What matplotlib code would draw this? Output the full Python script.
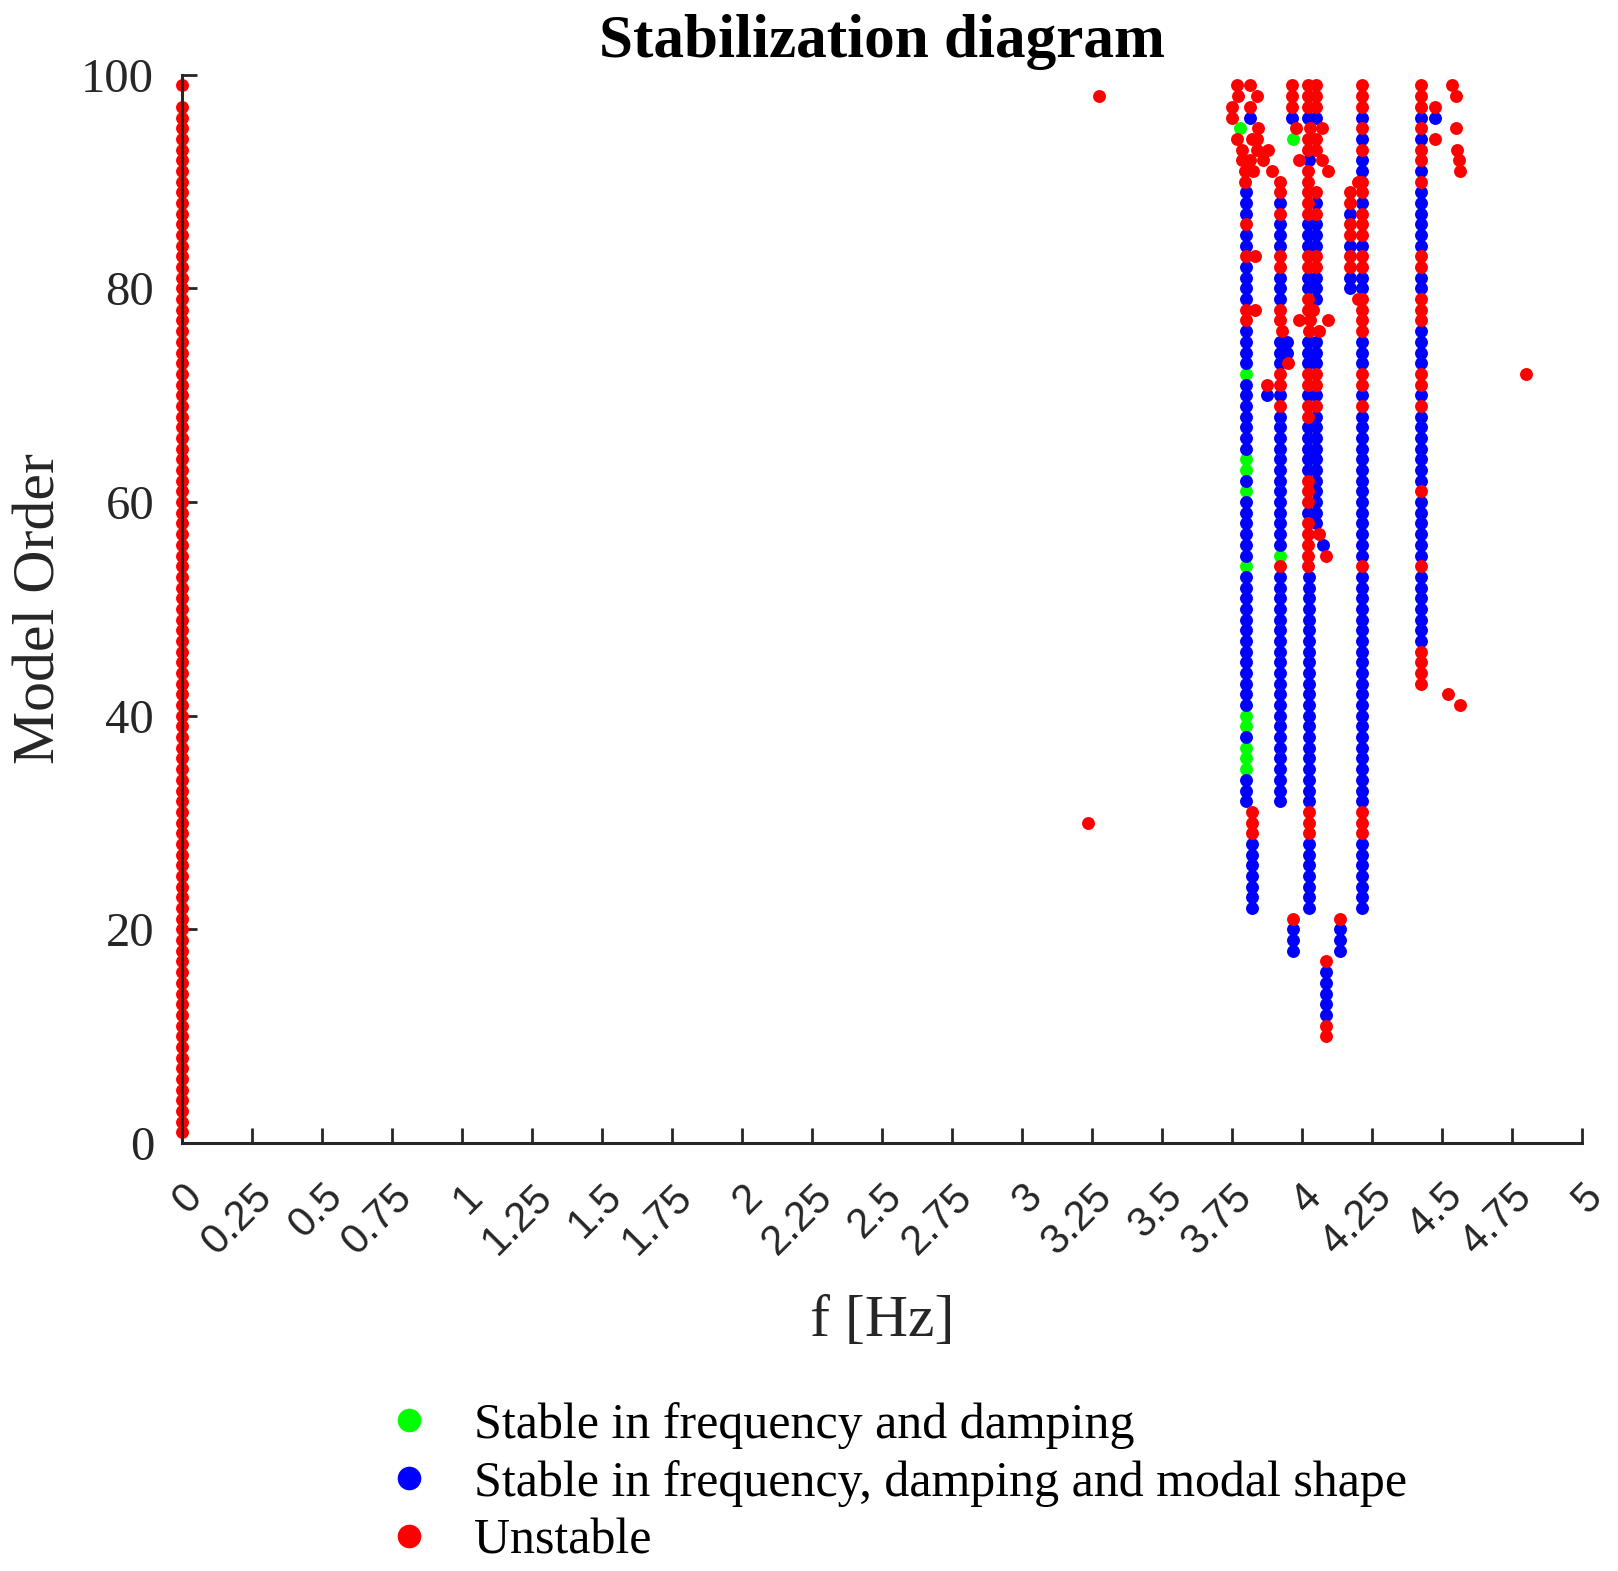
import numpy as np
import matplotlib
matplotlib.use('Agg')
import matplotlib.pyplot as plt
from matplotlib.lines import Line2D

# runs of poles: (frequency [Hz], top model order, bottom model order)
green_runs = [
    (3.779, 95, 95),
    (3.80, 72, 72), (3.80, 64, 63), (3.80, 61, 61), (3.80, 54, 54),
    (3.80, 40, 39), (3.80, 37, 35),
    (3.921, 55, 55),
    (3.968, 94, 94),
]

blue_runs = [
    (3.814, 96, 96),
    (3.80, 89, 87), (3.80, 85, 84), (3.80, 82, 79), (3.80, 76, 73), (3.80, 71, 65),
    (3.80, 62, 62), (3.80, 60, 55), (3.80, 53, 41), (3.80, 38, 38), (3.80, 34, 32),
    (3.82, 28, 22),
    (3.921, 88, 88), (3.921, 86, 84), (3.921, 81, 79), (3.921, 75, 73), (3.945, 75, 74),
    (3.921, 70, 70), (3.921, 68, 56), (3.921, 53, 32), (3.874, 70, 70),
    (3.963, 96, 96), (3.968, 20, 18),
    (4.02, 96, 96), (4.05, 96, 96), (4.025, 92, 92), (4.05, 88, 88), (4.02, 86, 84),
    (4.05, 86, 84), (4.02, 81, 80), (4.05, 81, 79), (4.02, 75, 73), (4.05, 75, 73),
    (4.02, 70, 70), (4.05, 70, 70), (4.05, 68, 58), (4.02, 67, 63), (4.02, 59, 59),
    (4.075, 56, 56), (4.025, 53, 32), (4.025, 28, 22),
    (4.086, 16, 12), (4.136, 20, 18),
    (4.171, 87, 87), (4.171, 84, 84), (4.171, 81, 80),
    (4.213, 96, 96), (4.213, 94, 94), (4.213, 92, 91), (4.213, 88, 88), (4.213, 84, 84),
    (4.213, 81, 80), (4.213, 75, 73), (4.213, 70, 70), (4.213, 68, 55), (4.213, 53, 32),
    (4.213, 28, 22),
    (4.427, 96, 96), (4.427, 94, 94), (4.427, 91, 91), (4.427, 89, 84), (4.427, 81, 80),
    (4.427, 76, 73), (4.427, 70, 70), (4.427, 68, 62), (4.427, 60, 55), (4.427, 53, 47),
    (4.475, 96, 96),
]

red_runs = [
    (0.0, 99, 99), (0.0, 97, 1),
    (3.767, 99, 99), (3.814, 99, 99), (3.773, 98, 98), (3.838, 98, 98),
    (3.749, 97, 96), (3.814, 97, 97), (3.844, 95, 95),
    (3.767, 94, 94), (3.820, 94, 94), (3.838, 94, 94),
    (3.785, 93, 92), (3.838, 93, 93), (3.880, 93, 93), (3.814, 92, 92), (3.862, 92, 92),
    (3.797, 91, 90), (3.826, 91, 91), (3.892, 91, 91),
    (3.80, 86, 86), (3.80, 83, 83), (3.832, 83, 83), (3.80, 78, 77), (3.832, 78, 78),
    (3.82, 31, 29),
    (3.921, 90, 89), (3.921, 87, 87), (3.921, 83, 82), (3.921, 78, 77), (3.93, 76, 76),
    (3.95, 73, 73), (3.921, 72, 71), (3.921, 69, 69), (3.921, 54, 54), (3.874, 71, 71),
    (3.963, 99, 97), (3.98, 95, 95), (3.99, 92, 92), (3.968, 21, 21),
    (4.02, 99, 97), (4.05, 99, 97), (4.03, 95, 95), (4.07, 95, 95), (4.02, 94, 93),
    (4.05, 94, 93), (4.07, 92, 92), (4.02, 91, 89), (4.093, 91, 91), (4.05, 89, 89),
    (4.02, 88, 87), (4.05, 87, 87), (4.02, 83, 82), (4.05, 83, 82), (4.02, 79, 78),
    (4.04, 78, 78), (3.99, 77, 77), (4.03, 77, 77), (4.093, 77, 77), (4.025, 76, 76),
    (4.06, 76, 76), (4.02, 72, 71), (4.05, 72, 71), (4.02, 69, 68), (4.05, 69, 69),
    (4.02, 62, 60), (4.02, 58, 54), (4.06, 57, 57), (4.086, 55, 55), (4.025, 31, 29),
    (4.086, 17, 17), (4.086, 11, 10), (4.136, 21, 21),
    (4.171, 89, 88), (4.171, 86, 85), (4.171, 83, 82),
    (4.213, 99, 97), (4.213, 95, 95), (4.213, 93, 93), (4.213, 90, 89), (4.20, 90, 90),
    (4.213, 87, 85), (4.213, 83, 82), (4.213, 79, 76), (4.20, 79, 79), (4.213, 72, 71),
    (4.213, 69, 69), (4.213, 54, 54), (4.213, 31, 29),
    (4.427, 99, 97), (4.427, 95, 95), (4.427, 93, 92), (4.427, 90, 90), (4.427, 83, 82),
    (4.427, 79, 77), (4.427, 72, 71), (4.427, 69, 69), (4.427, 61, 61), (4.427, 54, 54),
    (4.427, 46, 43),
    (4.475, 97, 97), (4.475, 94, 94),
    (4.535, 99, 99), (4.552, 98, 98), (4.552, 95, 95), (4.555, 93, 93), (4.56, 92, 92),
    (4.565, 91, 91),
    (4.52, 42, 42), (4.565, 41, 41), (4.80, 72, 72), (3.275, 98, 98), (3.235, 30, 30),
]

labels = ['Stable in frequency and damping',
          'Stable in frequency, damping and modal shape',
          'Unstable']
colors = ['#00ff00', '#0000ff', '#ff0000']

xticks = np.arange(0, 5.01, 0.25)
xticklabels = ['%g' % t for t in xticks]
yticks = [0, 20, 40, 60, 80, 100]


def expand(runs):
    f, o = [], []
    for fr, top, bot in runs:
        for k in range(bot, top + 1):
            f.append(fr)
            o.append(k)
    return np.array(f), np.array(o)


serif = 'Liberation Serif'
fig = plt.figure(figsize=(16.18, 15.71), dpi=100)
ax = fig.add_axes([0.1125, 0.2724, 0.8652, 0.68])

for runs, c in zip([green_runs, blue_runs, red_runs], colors):
    f, o = expand(runs)
    ax.plot(f, o, 'o', color=c, markersize=9.3, markeredgewidth=0, clip_on=False)

ax.set_xlim(0, 5)
ax.set_ylim(0, 100)
for s in ['top', 'right']:
    ax.spines[s].set_visible(False)
for s in ['left', 'bottom']:
    ax.spines[s].set_linewidth(2.2)
    ax.spines[s].set_color('#262626')

ax.set_xticks(xticks)
ax.set_xticklabels(xticklabels, rotation=45, ha='right', va='top',
                   rotation_mode='anchor', family='Liberation Sans',
                   fontsize=30, color='#262626')
ax.set_yticks(yticks)
ax.set_yticklabels([str(t) for t in yticks], family=serif, fontsize=35,
                   color='#262626')
ax.tick_params(axis='both', direction='in', length=11, width=2, color='#262626')
ax.tick_params(axis='x', pad=24)
ax.tick_params(axis='y', pad=20)

ax.set_xlabel('f [Hz]', family=serif, fontsize=43, color='#262626', labelpad=24)
ax.set_ylabel('Model Order', family=serif, fontsize=43, color='#262626', labelpad=10)
ax.set_title('Stabilization diagram', family=serif, fontsize=44,
             fontweight='bold', pad=13)

handles = [Line2D([], [], linestyle='none', marker='o', markersize=17,
                  markeredgewidth=0, color=c) for c in colors]
fig.legend(handles, labels, loc='center left', bbox_to_anchor=(0.222, 0.056),
           frameon=False, prop={'family': serif, 'size': 36},
           handlelength=1.0, handletextpad=0.8, labelspacing=0.22, borderpad=0)

fig.savefig('out.png', dpi=100)
